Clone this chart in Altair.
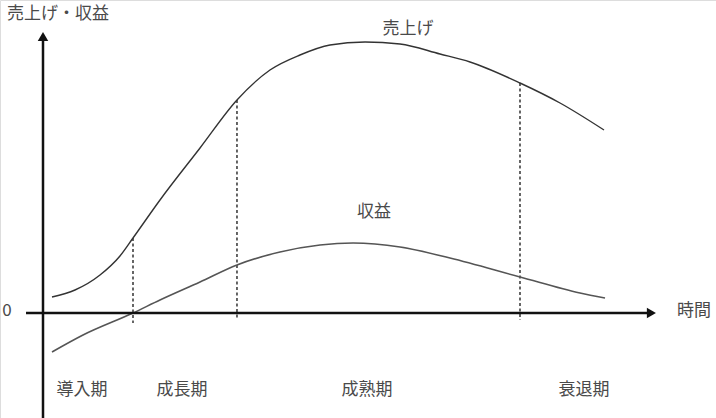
import altair as alt
import pandas as pd

# Sales curve (time units, value units)
sales_t = [1.5, 5.33, 9.5, 12.83, 15, 19.5, 26.17, 32.33, 37.83, 42.83, 47.83, 53.67, 59.5, 66.17, 71.17, 79.5, 86.17, 93.5]
sales_v = [6.4, 9.2, 15.2, 22.8, 30, 45.2, 66, 85.2, 97.2, 103.2, 107.2, 108.4, 107.6, 103.6, 100.4, 92, 84, 73.2]

# Profit curve
profit_t = [1.5, 6.67, 15, 19.5, 26.17, 32.33, 39.5, 46.17, 51.67, 59.5, 67.83, 79.5, 89.5, 93.67]
profit_v = [-15.6, -8.8, 0, 5.2, 12.4, 19.2, 24.4, 27.2, 28, 26.4, 22, 14.4, 8, 6]

# Phase boundaries
bound_t = [15, 32.33, 79.5]
bound_top = [30, 85.2, 92]
bound_bottom = [-4, -2.8, -2.8]

# Phase labels
phase_names = ["導入期", "成長期", "成熟期", "衰退期"]
phase_t = [6.5, 23.17, 54, 90.17]

# Other labels
label_text = ["売上げ・収益", "0", "時間", "売上げ", "収益"]
label_t = [2.5, -6, 108.5, 60.83, 55.17]
label_v = [119.6, 0.8, 0.8, 113.6, 40.4]

XD = [-7.1667, 112.1667]
YD = [-42, 125.2]
xs = alt.Scale(domain=XD, nice=False, zero=False)
ys = alt.Scale(domain=YD, nice=False, zero=False)

sales = pd.DataFrame({"t": sales_t, "v": sales_v})
profit = pd.DataFrame({"t": profit_t, "v": profit_v})
bounds = pd.DataFrame({"t": bound_t, "top": bound_top, "bottom": bound_bottom})
phases = pd.DataFrame({"name": phase_names, "t": phase_t, "v": [-30.8] * 4})
labels = pd.DataFrame({"text": label_text, "t": label_t, "v": label_v})

X = lambda: alt.X("t:Q", scale=xs, axis=None)
Y = lambda: alt.Y("v:Q", scale=ys, axis=None)

sales_line = alt.Chart(sales).mark_line(color="#333333", strokeWidth=1.4, interpolate="monotone").encode(x=X(), y=Y())
profit_line = alt.Chart(profit).mark_line(color="#555555", strokeWidth=1.6, interpolate="monotone").encode(x=X(), y=Y())

dashes = alt.Chart(bounds).mark_rule(color="#333333", strokeWidth=1.5, strokeDash=[3, 2.5]).encode(
    x=alt.X("t:Q", scale=xs, axis=None),
    y=alt.Y("top:Q", scale=ys, axis=None),
    y2="bottom:Q",
)

yaxis_df = pd.DataFrame({"t": [0], "v0": [-42], "v1": [109.2]})
yaxis = alt.Chart(yaxis_df).mark_rule(color="#111111", strokeWidth=2.5).encode(
    x=alt.X("t:Q", scale=xs, axis=None),
    y=alt.Y("v0:Q", scale=ys, axis=None),
    y2="v1:Q",
)
xaxis_df = pd.DataFrame({"t0": [-2.83], "t1": [101], "v": [0]})
xaxis = alt.Chart(xaxis_df).mark_rule(color="#111111", strokeWidth=2.5).encode(
    x=alt.X("t0:Q", scale=xs, axis=None),
    x2="t1:Q",
    y=alt.Y("v:Q", scale=ys, axis=None),
)

up_df = pd.DataFrame({"t": [0], "v": [110.6]})
up = alt.Chart(up_df).mark_point(shape="triangle-up", filled=True, color="#111111", size=110, opacity=1).encode(x=X(), y=Y())
right_df = pd.DataFrame({"t": [101.4], "v": [0]})
right = alt.Chart(right_df).mark_point(shape="triangle-right", filled=True, color="#111111", size=110, opacity=1).encode(x=X(), y=Y())

font = "Noto Sans CJK JP"
phase_text = alt.Chart(phases).mark_text(font=font, fontSize=17, color="#4a4a4a").encode(x=X(), y=Y(), text="name:N")
label_marks = alt.Chart(labels).mark_text(font=font, fontSize=17, color="#4a4a4a").encode(x=X(), y=Y(), text="text:N")

chart = alt.layer(
    dashes, sales_line, profit_line, yaxis, xaxis, up, right, phase_text, label_marks
).properties(
    width=716, height=418, padding=0, autosize=alt.AutoSizeParams(type="none")
).configure_view(stroke=None).configure(background="white")

chart.save("out.html", embed_options={"renderer": "svg", "actions": False})
